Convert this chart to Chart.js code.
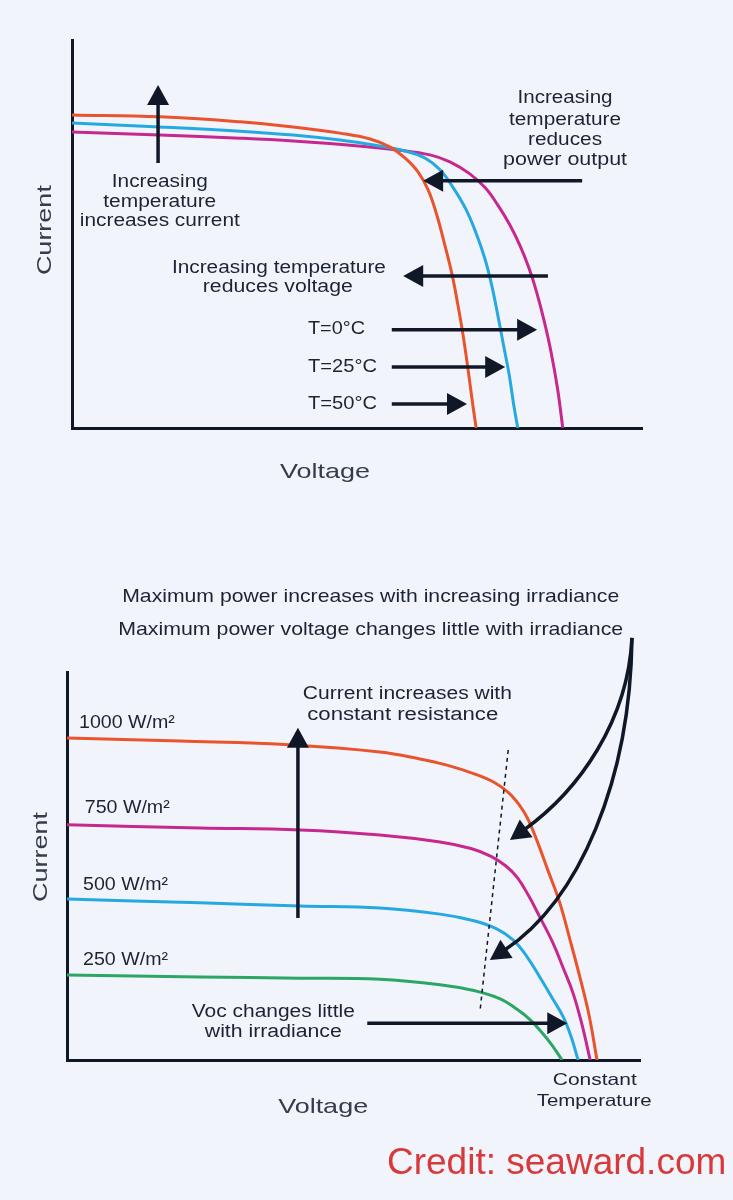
<!DOCTYPE html>
<html>
<head>
<meta charset="utf-8">
<script src="https://cdn.jsdelivr.net/npm/chart.js@4.4.1/dist/chart.umd.min.js"></script>
<style>
  html, body { margin: 0; padding: 0; background: #f1f4fa; }
  body { width: 733px; height: 1200px; position: relative; overflow: hidden; }
  canvas { position: absolute; left: 0; }
  #c1 { top: 0; }
  #c2 { top: 540px; }
  #credit { position: absolute; left: 387px; top: 1143px; font: 37px "Liberation Sans", Arial, sans-serif; line-height: 1; color: #d8393b; white-space: nowrap; }
</style>
</head>
<body>
<canvas id="c1" width="733" height="540"></canvas>
<canvas id="c2" width="733" height="660"></canvas>
<div id="credit">Credit: seaward.com</div>
<script>
// ---------- DATA (x = voltage, y = current, arbitrary units 0-100) ----------
// Top chart: temperature effect
const tempLabels = ['T=0°C', 'T=25°C', 'T=50°C'];
const temp50X = [0, 15.4, 29.5, 38.8, 47.0, 52.3, 55.8, 58.4, 60.7, 62.5, 64.0, 65.4, 66.7, 67.7, 68.6, 69.5, 70.2, 70.9];
const temp50Y = [80.7, 80.2, 78.9, 77.6, 76.0, 74.5, 72.4, 69.6, 66.0, 61.3, 54.9, 47.2, 39.4, 31.7, 24.0, 14.9, 7.2, 0];
const temp25X = [0, 15.4, 29.5, 38.8, 47.0, 54.0, 58.4, 61.9, 64.6, 66.9, 69.1, 70.9, 72.4, 73.6, 74.7, 75.7, 76.7, 77.5, 78.2];
const temp25Y = [78.6, 77.6, 76.5, 75.5, 74.2, 72.7, 71.4, 69.6, 66.5, 61.9, 56.4, 50.2, 43.8, 37.0, 29.1, 21.4, 13.7, 5.9, 0];
const temp0X = [0, 15.4, 29.5, 38.8, 48.8, 57.5, 62.8, 66.3, 69.8, 72.5, 74.6, 76.8, 78.6, 80.2, 81.5, 82.8, 84.0, 85.2, 86.1];
const temp0Y = [76.3, 75.5, 74.7, 74.0, 72.9, 71.6, 70.4, 68.6, 65.5, 61.9, 57.7, 52.4, 47.0, 41.1, 35.1, 27.8, 19.9, 10.0, 0];

// Bottom chart: irradiance effect
const irrLabels = ['1000 W/m²', '750 W/m²', '500 W/m²', '250 W/m²'];
const irr1000X = [0, 19.7, 39.4, 54.6, 61.6, 66.3, 71.2, 74.5, 77.0, 78.8, 80.3, 81.9, 83.9, 86.0, 87.8, 89.5, 91.1, 92.5];
const irr1000Y = [83.0, 82.2, 81.2, 79.4, 77.6, 76.0, 73.7, 71.6, 69.0, 66.0, 62.5, 57.0, 49.0, 40.5, 30.9, 21.4, 11.6, 0];
const irr750X = [0, 23.2, 40.7, 54.6, 65.1, 70.5, 74.0, 76.6, 78.6, 80.5, 82.5, 84.8, 86.6, 88.3, 89.9, 91.3];
const irr750Y = [60.6, 59.8, 59.3, 58.0, 56.2, 54.5, 52.5, 50.0, 47.0, 42.5, 36.9, 30.2, 23.7, 17.3, 9.0, 0];
const irr500X = [0, 23.2, 40.7, 54.6, 65.1, 71.0, 75.0, 77.8, 80.2, 82.5, 84.6, 86.6, 88.0, 89.2];
const irr500Y = [41.5, 40.5, 39.7, 39.2, 37.6, 35.9, 33.8, 31.0, 26.8, 21.4, 16.2, 11.1, 5.9, 0];
const irr250X = [0, 23.2, 40.7, 54.6, 65.1, 71.0, 75.5, 78.6, 80.8, 82.8, 84.6, 86.4];
const irr250Y = [21.9, 21.4, 21.1, 20.8, 19.4, 17.9, 15.8, 13.0, 10.4, 7.2, 3.9, 0];

// ---------- STYLE ----------
const C_RED = '#e9532d', C_BLUE = '#25a9e0', C_MAG = '#c6288f', C_GREEN = '#2ca665';
const C_AXIS = '#101828', C_TEXT = '#1c2333', C_AXTITLE = '#353c4b';
const FONT = '"Liberation Sans", Arial, Helvetica, sans-serif';

function pts(xs, ys) { return xs.map((x, i) => ({ x, y: ys[i] })); }
function ds(label, xs, ys, color) {
  return { label, data: pts(xs, ys), borderColor: color, borderWidth: 3, pointRadius: 0,
           fill: false, tension: 0.4, cubicInterpolationMode: 'default' };
}

// ---------- ANNOTATIONS (positions in data units) ----------
const topNotes = {
  texts: [
    { t: 'Increasing', x: 15.4, y: 63.4, s: 17.5, w: 96 },
    { t: 'temperature', x: 15.4, y: 58.2, s: 17.5, w: 113 },
    { t: 'increases current', x: 15.4, y: 53.4, s: 17.5, w: 160 },
    { t: 'Increasing', x: 86.5, y: 85.1, s: 17.5, w: 95 },
    { t: 'temperature', x: 86.5, y: 79.4, s: 17.5, w: 112 },
    { t: 'reduces', x: 86.5, y: 74.2, s: 17.5, w: 74 },
    { t: 'power output', x: 86.5, y: 69.1, s: 17.5, w: 124 },
    { t: 'Increasing temperature', x: 36.3, y: 41.2, s: 17.5, w: 214 },
    { t: 'reduces voltage', x: 36.1, y: 36.3, s: 17.5, w: 150 },
    { t: tempLabels[0], x: 41.4, y: 25.5, s: 18, w: 57, align: 'left' },
    { t: tempLabels[1], x: 41.4, y: 15.7, s: 18, w: 69, align: 'left' },
    { t: tempLabels[2], x: 41.4, y: 6.2, s: 18, w: 69, align: 'left' },
    { t: 'Voltage', x: 44.4, y: -11.3, s: 21, w: 90, c: C_AXTITLE },
    { t: 'Current', x: -4.7, y: 51.0, s: 21, w: 90, c: C_AXTITLE, rot: true }
  ],
  arrows: [
    { x1: 15.1, y1: 68.3, x2: 15.1, y2: 88.4 },
    { x1: 89.5, y1: 63.7, x2: 61.6, y2: 63.7 },
    { x1: 83.5, y1: 39.2, x2: 58.1, y2: 39.2 },
    { x1: 56.1, y1: 25.3, x2: 81.6, y2: 25.3 },
    { x1: 56.1, y1: 15.7, x2: 76.0, y2: 15.7 },
    { x1: 56.1, y1: 6.2, x2: 69.3, y2: 6.2 }
  ],
  curves: [], dashes: []
};

const botNotes = {
  texts: [
    { t: 'Maximum power increases with increasing irradiance', x: 53.0, y: 119.3, s: 19, w: 497 },
    { t: 'Maximum power voltage changes little with irradiance', x: 53.0, y: 110.8, s: 19, w: 505 },
    { t: 'Current increases with', x: 59.4, y: 94.3, s: 18, w: 209 },
    { t: 'constant resistance', x: 58.6, y: 88.9, s: 18, w: 191 },
    { t: irrLabels[0], x: 2.1, y: 86.9, s: 17.5, sx: 1.12, align: 'left' },
    { t: irrLabels[1], x: 3.1, y: 64.9, s: 17.5, sx: 1.12, align: 'left' },
    { t: irrLabels[2], x: 2.8, y: 45.1, s: 17.5, sx: 1.12, align: 'left' },
    { t: irrLabels[3], x: 2.8, y: 25.8, s: 17.5, sx: 1.12, align: 'left' },
    { t: 'Voc changes little', x: 36.0, y: 12.4, s: 18, w: 163 },
    { t: 'with irradiance', x: 36.0, y: 7.2, s: 18, w: 137 },
    { t: 'Constant', x: 92.1, y: -5.2, s: 16.5, w: 84 },
    { t: 'Temperature', x: 92.0, y: -10.6, s: 16.5, w: 115 },
    { t: 'Voltage', x: 44.7, y: -12.1, s: 21, w: 90, c: C_AXTITLE },
    { t: 'Current', x: -4.5, y: 52.3, s: 21, w: 90, c: C_AXTITLE, rot: true }
  ],
  arrows: [
    { x1: 40.3, y1: 36.6, x2: 40.3, y2: 85.6 },
    { x1: 52.4, y1: 9.5, x2: 87.3, y2: 9.5 }
  ],
  curves: [
    { p: [[98.6, 108.8], [97.9, 87.6], [89.5, 69.6], [77.3, 56.7]] },
    { p: [[98.6, 108.8], [98.3, 72.2], [89.5, 41.2], [73.8, 25.8]] }
  ],
  dashes: [ { x1: 77.0, y1: 79.9, x2: 72.1, y2: 12.9 } ]
};

// ---------- DRAWING PLUGIN ----------
function head(ctx, x, y, ang, len, wid) {
  ctx.save();
  ctx.translate(x, y); ctx.rotate(ang);
  ctx.beginPath();
  ctx.moveTo(0, 0); ctx.lineTo(-len, -wid / 2); ctx.lineTo(-len, wid / 2); ctx.closePath();
  ctx.fill();
  ctx.restore();
}
const notesPlugin = {
  id: 'notes',
  afterDatasetsDraw(chart, args, opts) {
    const n = opts.notes; if (!n) return;
    const ctx = chart.ctx, sx = chart.scales.x, sy = chart.scales.y;
    const X = v => sx.getPixelForValue(v), Y = v => sy.getPixelForValue(v);
    ctx.save();
    ctx.fillStyle = C_AXIS; ctx.strokeStyle = C_AXIS; ctx.lineCap = 'butt';
    n.arrows.forEach(a => {
      const x1 = X(a.x1), y1 = Y(a.y1), x2 = X(a.x2), y2 = Y(a.y2);
      const ang = Math.atan2(y2 - y1, x2 - x1), L = 20;
      ctx.lineWidth = 3.5;
      ctx.beginPath(); ctx.moveTo(x1, y1);
      ctx.lineTo(x2 - Math.cos(ang) * (L - 2), y2 - Math.sin(ang) * (L - 2)); ctx.stroke();
      head(ctx, x2, y2, ang, L, 22);
    });
    n.curves.forEach(c => {
      const p = c.p.map(q => [X(q[0]), Y(q[1])]);
      const ang = Math.atan2(p[3][1] - p[2][1], p[3][0] - p[2][0]), L = 20;
      const ex = p[3][0] - Math.cos(ang) * (L - 3), ey = p[3][1] - Math.sin(ang) * (L - 3);
      ctx.lineWidth = 3.5;
      ctx.beginPath(); ctx.moveTo(p[0][0], p[0][1]);
      ctx.bezierCurveTo(p[1][0], p[1][1], p[2][0], p[2][1], ex, ey); ctx.stroke();
      head(ctx, p[3][0], p[3][1], ang, L, 22);
    });
    n.dashes.forEach(d => {
      ctx.save(); ctx.lineWidth = 1.5; ctx.setLineDash([4, 4]);
      ctx.beginPath(); ctx.moveTo(X(d.x1), Y(d.y1)); ctx.lineTo(X(d.x2), Y(d.y2)); ctx.stroke();
      ctx.restore();
    });
    n.texts.forEach(t => {
      ctx.save();
      ctx.font = t.s + 'px ' + FONT;
      ctx.fillStyle = t.c || C_TEXT;
      ctx.textBaseline = 'middle';
      const m = ctx.measureText(t.t).width;
      const k = t.w ? t.w / m : (t.sx || 1.1);
      ctx.translate(X(t.x), Y(t.y));
      if (t.rot) ctx.rotate(-Math.PI / 2);
      ctx.scale(k, 1);
      ctx.textAlign = t.align || 'center';
      ctx.fillText(t.t, 0, 0);
      ctx.restore();
    });
    ctx.restore();
  }
};

function axisOpts(horizontal) {
  return {
    type: 'linear', min: 0, max: 100, display: true,
    ticks: { display: false }, grid: { display: false },
    border: { display: true, color: C_AXIS, width: 3 },
    afterFit(s) { if (horizontal) s.height = 0; else s.width = 0; }
  };
}
function makeChart(id, datasets, pad, notes) {
  return new Chart(document.getElementById(id), {
    type: 'line',
    data: { datasets },
    options: {
      responsive: false, animation: false, devicePixelRatio: 1,
      layout: { padding: pad },
      scales: { x: axisOpts(true), y: axisOpts(false) },
      plugins: { legend: { display: false }, tooltip: { enabled: false }, notes: { notes } }
    },
    plugins: [notesPlugin]
  });
}

makeChart('c1', [
  ds(tempLabels[2], temp50X, temp50Y, C_RED),
  ds(tempLabels[1], temp25X, temp25Y, C_BLUE),
  ds(tempLabels[0], temp0X, temp0Y, C_MAG)
], { left: 72, top: 40, right: 91, bottom: 112 }, topNotes);

makeChart('c2', [
  ds(irrLabels[3], irr250X, irr250Y, C_GREEN),
  ds(irrLabels[2], irr500X, irr500Y, C_BLUE),
  ds(irrLabels[1], irr750X, irr750Y, C_MAG),
  ds(irrLabels[0], irr1000X, irr1000Y, C_RED)
], { left: 67, top: 132, right: 93, bottom: 140 }, botNotes);
</script>
</body>
</html>
